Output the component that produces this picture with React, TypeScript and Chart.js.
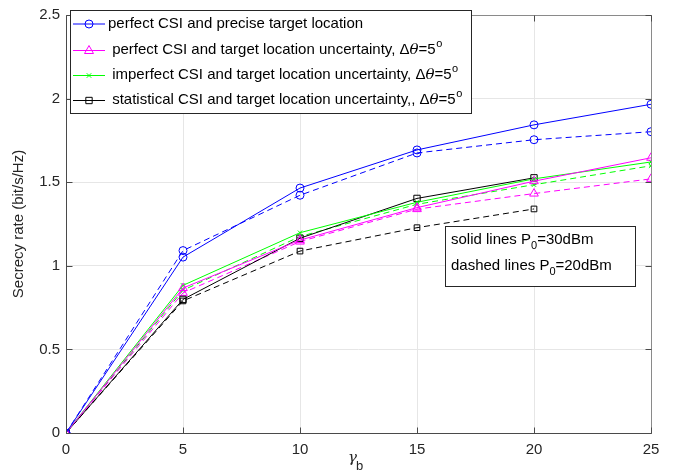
import React, { useEffect, useRef } from "react";
import { Chart, registerables } from "chart.js";

Chart.register(...registerables);

const xValues = [0, 5, 10, 15, 20, 25];
const blueSolid = [0, 1.052, 1.465, 1.693, 1.843, 1.966];
const blueDashed = [0, 1.091, 1.422, 1.675, 1.754, 1.802];
const magentaSolid = [0, 0.867, 1.154, 1.348, 1.506, 1.646];
const magentaDashed = [0, 0.838, 1.145, 1.339, 1.432, 1.52];
const greenSolid = [0, 0.883, 1.198, 1.38, 1.52, 1.621];
const greenDashed = [0, 0.854, 1.175, 1.368, 1.485, 1.598];
const blackSolid = [0, 0.799, 1.165, 1.403, 1.526];
const blackDashed = [0, 0.79, 1.088, 1.228, 1.34];

const legendLabels = [
  "perfect CSI and precise target location",
  " perfect CSI and target location uncertainty, ",
  " imperfect CSI and target location uncertainty, ",
  " statistical CSI and target location uncertainty,, ",
];
const xTicks = [0, 5, 10, 15, 20, 25];
const yTicks = [0, 0.5, 1, 1.5, 2, 2.5];

const BLUE = "#0000ff";
const MAGENTA = "#ff00ff";
const GREEN = "#00ff00";
const BLACK = "#000000";
const FONT = '"Liberation Sans", Arial, sans-serif';
const DASH = [6, 4];

const pts = (arr: number[]) => arr.map((v, i) => ({ x: xValues[i], y: v }));

function ds(label: string, data: number[], color: string, style: string, radius: number, dashed: boolean) {
  return {
    label,
    data: pts(data),
    borderColor: color,
    backgroundColor: "rgba(0,0,0,0)",
    borderWidth: 1,
    borderDash: dashed ? DASH : [],
    pointStyle: style,
    pointRadius: radius,
    pointBorderColor: color,
    pointBackgroundColor: "rgba(0,0,0,0)",
    pointBorderWidth: 1,
    tension: 0,
    fill: false,
  };
}

function drawMarker(ctx: CanvasRenderingContext2D, style: string, x: number, y: number, r: number, color: string) {
  ctx.save();
  ctx.strokeStyle = color;
  ctx.lineWidth = 1;
  ctx.setLineDash([]);
  ctx.beginPath();
  if (style === "circle") {
    ctx.arc(x, y, r, 0, Math.PI * 2);
  } else if (style === "triangle") {
    ctx.moveTo(x, y - r);
    ctx.lineTo(x + r * 0.9, y + r * 0.6);
    ctx.lineTo(x - r * 0.9, y + r * 0.6);
    ctx.closePath();
  } else if (style === "crossRot") {
    const s = r * 0.75;
    ctx.moveTo(x - s, y - s);
    ctx.lineTo(x + s, y + s);
    ctx.moveTo(x + s, y - s);
    ctx.lineTo(x - s, y + s);
  } else if (style === "rect") {
    const s = r * Math.SQRT1_2;
    ctx.rect(x - s, y - s, 2 * s, 2 * s);
  }
  ctx.stroke();
  ctx.restore();
}

const overlay = {
  id: "overlay",
  afterDraw(chart: any) {
    const ctx: CanvasRenderingContext2D = chart.ctx;
    const { left, right, top, bottom } = chart.chartArea;
    const xs = chart.scales.x;
    const ys = chart.scales.y;
    ctx.save();
    ctx.lineWidth = 1;
    ctx.setLineDash([]);
    const L = Math.round(left) + 0.5, R = Math.round(right) + 0.5;
    const T = Math.round(top) + 0.5, B = Math.round(bottom) + 0.5;
    // top/right box lines (lighter)
    ctx.strokeStyle = "#8a8a8a";
    ctx.beginPath();
    ctx.moveTo(L, T);
    ctx.lineTo(R, T);
    ctx.lineTo(R, B);
    ctx.stroke();
    // left/bottom axes (darker)
    ctx.strokeStyle = "#4a4a4a";
    ctx.beginPath();
    ctx.moveTo(L, T);
    ctx.lineTo(L, B);
    ctx.lineTo(R, B);
    ctx.stroke();
    // inward ticks
    const tl = 6;
    ctx.strokeStyle = "#4a4a4a";
    ctx.beginPath();
    xTicks.forEach((t) => {
      const px = Math.round(xs.getPixelForValue(t)) + 0.5;
      ctx.moveTo(px, B);
      ctx.lineTo(px, B - tl);
      ctx.moveTo(px, T);
      ctx.lineTo(px, T + tl);
    });
    yTicks.forEach((t) => {
      const py = Math.round(ys.getPixelForValue(t)) + 0.5;
      ctx.moveTo(L, py);
      ctx.lineTo(L + tl, py);
      ctx.moveTo(R, py);
      ctx.lineTo(R - tl, py);
    });
    ctx.stroke();

    // axis titles
    ctx.fillStyle = "#262626";
    ctx.font = `15px ${FONT}`;
    ctx.textBaseline = "middle";
    ctx.save();
    ctx.translate(19, (top + bottom) / 2);
    ctx.rotate(-Math.PI / 2);
    ctx.textAlign = "center";
    ctx.fillText("Secrecy rate (bit/s/Hz)", 0, 0);
    ctx.restore();

    ctx.textAlign = "left";
    ctx.textBaseline = "alphabetic";
    ctx.font = `italic 15px "DejaVu Serif", serif`;
    const gx = 348;
    ctx.fillText("γ", gx, 462);
    const gw = ctx.measureText("γ").width;
    ctx.font = `13px ${FONT}`;
    ctx.fillText("b", gx + gw - 1, 470);

    // legend
    const lx = 70, ly = 10, lw = 401, lh = 103;
    ctx.fillStyle = "#ffffff";
    ctx.fillRect(lx, ly, lw, lh);
    ctx.strokeStyle = "#262626";
    ctx.strokeRect(lx + 0.5, ly + 0.5, lw, lh);
    const rows = [
      { c: BLUE, s: "circle", r: 4 },
      { c: MAGENTA, s: "triangle", r: 5 },
      { c: GREEN, s: "crossRot", r: 3 },
      { c: BLACK, s: "rect", r: 4.5 },
    ];
    const rowY = [23.5, 50, 75, 100];
    ctx.textBaseline = "middle";
    rows.forEach((row, i) => {
      const y = rowY[i];
      ctx.strokeStyle = row.c;
      ctx.lineWidth = 1;
      ctx.beginPath();
      ctx.moveTo(73, y + 0.5);
      ctx.lineTo(105, y + 0.5);
      ctx.stroke();
      drawMarker(ctx, row.s, 89, y + 0.5, row.r, row.c);
      ctx.fillStyle = "#000000";
      ctx.font = `15px ${FONT}`;
      let tx = 108;
      ctx.fillText(legendLabels[i], tx, y);
      if (i > 0) {
        tx += ctx.measureText(legendLabels[i]).width;
        ctx.fillText("Δ", tx, y);
        tx += ctx.measureText("Δ").width;
        ctx.font = `italic 15px "DejaVu Serif", serif`;
        ctx.fillText("θ", tx, y);
        tx += ctx.measureText("θ").width;
        ctx.font = `15px ${FONT}`;
        ctx.fillText("=5", tx, y);
        tx += ctx.measureText("=5").width;
        ctx.font = `11px ${FONT}`;
        ctx.fillText("o", tx + 0.5, y - 6);
      }
    });

    // annotation box
    const ax = 445, ay = 226, aw = 190, ah = 60;
    ctx.fillStyle = "#ffffff";
    ctx.fillRect(ax, ay, aw, ah);
    ctx.strokeStyle = "#262626";
    ctx.strokeRect(ax + 0.5, ay + 0.5, aw, ah);
    const ann = [
      ["solid lines P", "0", "=30dBm", 240],
      ["dashed lines P", "0", "=20dBm", 266],
    ] as const;
    ann.forEach(([a, sub, b, y]) => {
      ctx.fillStyle = "#000000";
      ctx.font = `15px ${FONT}`;
      let tx = 451;
      ctx.fillText(a, tx, y);
      tx += ctx.measureText(a).width;
      ctx.font = `11px ${FONT}`;
      ctx.fillText(sub, tx, y + 6);
      tx += ctx.measureText(sub).width;
      ctx.font = `15px ${FONT}`;
      ctx.fillText(b, tx, y);
    });
    ctx.restore();
  },
};

export default function App() {
  const ref = useRef<HTMLCanvasElement | null>(null);
  useEffect(() => {
    if (!ref.current) return;
    const chart = new Chart(ref.current, {
      type: "line",
      data: {
        datasets: [
          ds("blue solid", blueSolid, BLUE, "circle", 4, false),
          ds("magenta solid", magentaSolid, MAGENTA, "triangle", 5, false),
          ds("green solid", greenSolid, GREEN, "crossRot", 3, false),
          ds("black solid", blackSolid, BLACK, "rect", 4.5, false),
          ds("blue dashed", blueDashed, BLUE, "circle", 4, true),
          ds("magenta dashed", magentaDashed, MAGENTA, "triangle", 5, true),
          ds("green dashed", greenDashed, GREEN, "crossRot", 3, true),
          ds("black dashed", blackDashed, BLACK, "rect", 4, true),
        ] as any,
      },
      options: {
        responsive: false,
        animation: false,
        devicePixelRatio: 1,
        layout: { padding: { left: 0, right: 35, top: 5, bottom: 0 } },
        plugins: { legend: { display: false }, tooltip: { enabled: false } },
        scales: {
          x: {
            type: "linear",
            min: 0,
            max: 25,
            afterBuildTicks: (s: any) => { s.ticks = xTicks.map((v) => ({ value: v })); },
            afterFit: (s: any) => { s.height = 43; },
            grid: { color: "#e6e6e6", drawTicks: false },
            border: { display: false },
            ticks: { color: "#262626", font: { family: FONT, size: 15 }, padding: 8, maxRotation: 0 },
          },
          y: {
            type: "linear",
            min: 0,
            max: 2.5,
            afterBuildTicks: (s: any) => { s.ticks = yTicks.map((v) => ({ value: v })); },
            afterFit: (s: any) => { s.width = 66; },
            grid: { color: "#e6e6e6", drawTicks: false },
            border: { display: false },
            ticks: { color: "#262626", font: { family: FONT, size: 15 }, padding: 6, callback: (v: any) => String(v) },
          },
        },
      } as any,
      plugins: [overlay],
    });
    return () => chart.destroy();
  }, []);
  return (
    <div style={{ position: "absolute", left: 0, top: 0, width: 686, height: 476, background: "#fff" }}>
      <canvas ref={ref} width={686} height={476} style={{ width: 686, height: 476, display: "block" }} />
    </div>
  );
}
